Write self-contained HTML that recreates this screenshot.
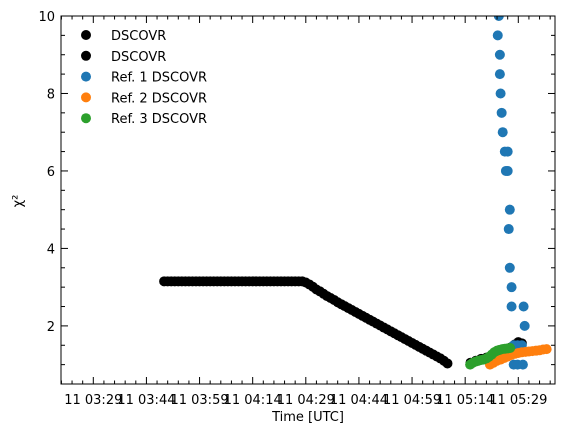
<!DOCTYPE html>
<html><head><meta charset="utf-8"><style>
body{margin:0;background:#fff;}
svg text{font-family:"DejaVu Sans","Liberation Sans",sans-serif;font-size:13px;fill:#000;}
</style></head><body>
<svg id="chart" width="565" height="433" xmlns="http://www.w3.org/2000/svg"></svg>
<script>
// times in minutes after 03:00 UTC
const xTickMinutes=[29,44,59,74,89,104,119,134,149];
const xTickLabels=["11 03:29","11 03:44","11 03:59","11 04:14","11 04:29","11 04:44","11 04:59","11 05:14","11 05:29"];
const yTickValues=[2,4,6,8,10];
const yTickLabels=["2","4","6","8","10"];

const blackFlatT=[49,50,51,52,53,54,55,56,57,58,59,60,61,62,63,64,65,66,67,68,69,70,71,72,73,74,75,76,77,78,79,80,81,82,83,84,85,86,87,88];
const blackFlatV=[3.15,3.15,3.15,3.15,3.15,3.15,3.15,3.15,3.15,3.15,3.15,3.15,3.15,3.15,3.15,3.15,3.15,3.15,3.15,3.15,3.15,3.15,3.15,3.15,3.15,3.15,3.15,3.15,3.15,3.15,3.15,3.15,3.15,3.15,3.15,3.15,3.15,3.15,3.15,3.15];
const blackDeclT=[89,90,91,92,93,94,95,96,97,98,99,100,101,102,103,104,105,106,107,108,109,110,111,112,113,114,115,116,117,118,119,120,121,122,123,124,125,126,127,128,129];
const blackDeclV=[3.12,3.07,3.01,2.94,2.89,2.83,2.77,2.72,2.67,2.61,2.56,2.51,2.46,2.41,2.36,2.31,2.26,2.21,2.16,2.11,2.06,2.01,1.96,1.91,1.86,1.81,1.76,1.71,1.66,1.61,1.56,1.51,1.46,1.41,1.36,1.31,1.26,1.21,1.16,1.10,1.03];
const blackEndT=[135.5,137,138.5,140,141.5,143,144.5,146,147,148,149,150];
const blackEndV=[1.05,1.1,1.15,1.18,1.22,1.27,1.32,1.38,1.45,1.52,1.58,1.55];

const ref1T=[143.5,143.2,143.8,143.8,144.0,144.3,144.6,145.2,146.0,145.5,146.0,146.6,146.3,146.6,147.1,147.1,150.5,150.8,147.7,148.8,150.0,147.7,148.8,150.3];
const ref1V=[10,9.5,9.0,8.5,8.0,7.5,7.0,6.5,6.5,6.0,6.0,5.0,4.5,3.5,3.0,2.5,2.5,2.0,1.5,1.5,1.5,1.0,1.0,1.0];
const ref2T=[141,142,143,144,145,146,147,148,149,150,151,152,153,154,155,156,157];
const ref2V=[1.0,1.05,1.1,1.13,1.17,1.21,1.25,1.28,1.3,1.32,1.33,1.34,1.35,1.36,1.37,1.39,1.4];
const ref3T=[135.4,136.2,137,137.7,138.5,139.2,140,140.7,141.5,142.2,143,143.7,144.5,145.2,146,146.7];
const ref3V=[1.0,1.05,1.08,1.1,1.12,1.13,1.16,1.2,1.26,1.32,1.36,1.38,1.4,1.41,1.42,1.43];

const L=61,R=555,T=16,B=384;
function xs(t){return 93.3+(t-29)*(425/120);}
function ys(v){return T+(10-v)*((B-T)/9.5);}
const svg=document.getElementById('chart');
const NS="http://www.w3.org/2000/svg";
function mk(tag,attrs){const e=document.createElementNS(NS,tag);for(const k in attrs)e.setAttribute(k,attrs[k]);svg.appendChild(e);return e;}

function scatter(ts,vs,color,name){
  for(let i=0;i<ts.length;i++){
    const c=mk('circle',{cx:xs(ts[i]),cy:ys(vs[i]),r:5,fill:color});
    
    
  }
}
scatter(blackFlatT,blackFlatV,'#000','dscovr-point');
scatter(blackDeclT,blackDeclV,'#000','dscovr-point');
scatter(blackEndT,blackEndV,'#000','dscovr-point');
scatter(ref1T,ref1V,'#1f77b4','ref1-point');
scatter(ref2T,ref2V,'#ff7f0e','ref2-point');
scatter(ref3T,ref3V,'#2ca02c','ref3-point');

mk('rect',{x:0,y:0,width:565,height:T,fill:'#fff'});
mk('rect',{x:0,y:B,width:565,height:433-B,fill:'#fff'});

const frame=mk('rect',{x:L,y:T,width:R-L,height:B-T,fill:'none',stroke:'#000','stroke-width':1});



for(let m=20;m<=175;m+=3){
  const x=xs(m); if(x<L||x>R)continue;
  const major=xTickMinutes.includes(m);const len=major?7:3.5;
  mk('line',{x1:x,y1:B,x2:x,y2:B-len,stroke:'#000'});
  mk('line',{x1:x,y1:T,x2:x,y2:T+len,stroke:'#000'});
}
for(let i=0;i<xTickMinutes.length;i++){
  const t=mk('text',{x:xs(xTickMinutes[i]),y:B+20,'text-anchor':'middle'});
  t.textContent=xTickLabels[i];
  
  
}
for(let v=0.5;v<=10.001;v+=0.5){
  const y=ys(v);const major=yTickValues.includes(Math.round(v*10)/10);const len=major?7:4;
  mk('line',{x1:L,y1:y,x2:L+len,y2:y,stroke:'#000'});
  mk('line',{x1:R,y1:y,x2:R-len,y2:y,stroke:'#000'});
}
for(let i=0;i<yTickValues.length;i++){
  const t=mk('text',{x:55,y:ys(yTickValues[i])+5,'text-anchor':'end'});
  t.textContent=yTickLabels[i];
  
  
}
const xl=mk('text',{x:308,y:421,'text-anchor':'middle'});xl.textContent='Time [UTC]';


const yl=mk('text',{x:22,y:201,'text-anchor':'middle',transform:'rotate(-90 22 201)'});yl.textContent='χ²';



const legNames=['DSCOVR','DSCOVR','Ref. 1 DSCOVR','Ref. 2 DSCOVR','Ref. 3 DSCOVR'];
const legColors=['#000','#000','#1f77b4','#ff7f0e','#2ca02c'];
for(let i=0;i<legNames.length;i++){
  const y=35+i*20.8;
  const c=mk('circle',{cx:86,cy:y,r:5,fill:legColors[i]});
  
  
  const t=mk('text',{x:111,y:y+5});t.textContent=legNames[i];
  
  
}
</script>
</body></html>
